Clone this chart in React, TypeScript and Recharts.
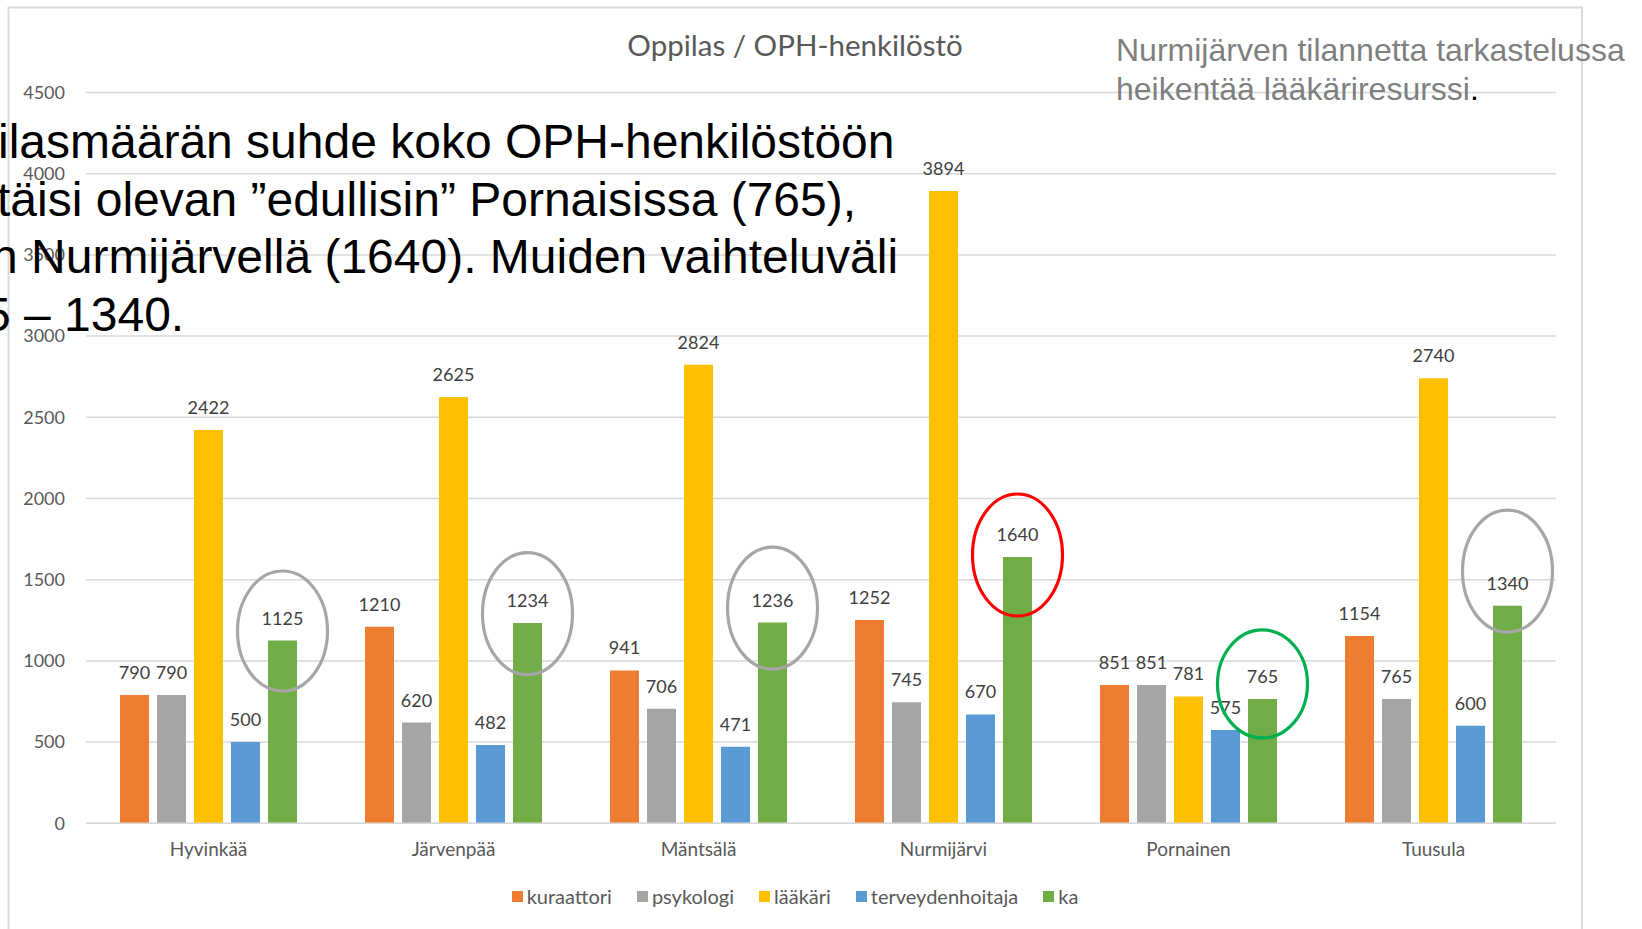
import React from 'react';
import { BarChart, Bar, XAxis, YAxis, CartesianGrid, LabelList, Legend } from 'recharts';

const categories = ['Hyvinkää', 'Järvenpää', 'Mäntsälä', 'Nurmijärvi', 'Pornainen', 'Tuusula'];
const kuraattori = [790, 1210, 941, 1252, 851, 1154];
const psykologi = [790, 620, 706, 745, 851, 765];
const laakari = [2422, 2625, 2824, 3894, 781, 2740];
const terveydenhoitaja = [500, 482, 471, 670, 575, 600];
const ka = [1125, 1234, 1236, 1640, 765, 1340];
const yTicks = [0, 500, 1000, 1500, 2000, 2500, 3000, 3500, 4000, 4500];
const seriesNames = ['kuraattori', 'psykologi', 'lääkäri', 'terveydenhoitaja', 'ka'];
const seriesColors = ['#ED7D31', '#A5A5A5', '#FFC000', '#5B9BD5', '#70AD47'];

// highlight ellipses around the "ka" bars (center given in value units)
const ellipseCenters = [1184, 1291, 1325, 1652, 858, 1553];
const ellipseColors = ['#A6A6A6', '#A6A6A6', '#A6A6A6', '#FF0000', '#00B050', '#A6A6A6'];
const ellipseRy = [60, 61, 61, 61, 54, 61];

const titleText = 'Oppilas / OPH-henkilöstö';
const noteLines = ['Nurmijärven tilannetta tarkastelussa', 'heikentää lääkäriresurssi'];
const bodyLines = [
  'ilasmäärän suhde koko OPH-henkilöstöön',
  'täisi olevan ”edullisin” Pornaisissa (765),',
  'n Nurmijärvellä (1640). Muiden vaihteluväli',
  '5 – 1340.',
];

const data = categories.map((c, i) => ({
  name: c,
  s0: kuraattori[i],
  s1: psykologi[i],
  s2: laakari[i],
  s3: terveydenhoitaja[i],
  s4: ka[i],
}));

const FONT = 'Lato, "Noto Sans", sans-serif';

const EllipseLabel = (props: any) => {
  const vb = props.viewBox || props;
  const x = Number(vb.x);
  const y = Number(vb.y);
  const w = Number(vb.width);
  const h = Number(vb.height);
  const value = Number(props.value);
  const i = props.index;
  if (!isFinite(x) || !isFinite(y) || i == null) return null;
  const pxPerUnit = h / value;
  const base = y + h;
  const cy = base - ellipseCenters[i] * pxPerUnit;
  return (
    <ellipse
      cx={x + w / 2}
      cy={cy}
      rx={45}
      ry={ellipseRy[i]}
      fill="none"
      stroke={ellipseColors[i]}
      strokeWidth={3.2}
    />
  );
};

const LegendContent = () => (
  <div
    style={{
      display: 'flex',
      justifyContent: 'center',
      alignItems: 'center',
      fontFamily: FONT,
      fontSize: 20,
      color: '#595959',
      gap: 25,
    }}
  >
    {seriesNames.map((n, i) => (
      <div key={n} style={{ display: 'flex', alignItems: 'center' }}>
        <span
          style={{
            display: 'inline-block',
            width: 11,
            height: 11,
            background: seriesColors[i],
            marginRight: 4,
          }}
        />
        <span>{n}</span>
      </div>
    ))}
  </div>
);

export default function App() {
  return (
    <div style={{ position: 'absolute', left: 0, top: 0, width: 1642, height: 929, background: '#fff', overflow: 'hidden' }}>
      <svg width={1642} height={929} style={{ position: 'absolute', left: 0, top: 0 }}>
        <rect x={8.5} y={7.5} width={1573.5} height={1000} fill="#fff" stroke="#D9D9D9" strokeWidth={2} />
      </svg>
      <div style={{ position: 'absolute', left: 0, top: 0 }}>
        <BarChart
          width={1642}
          height={929}
          data={data}
          margin={{ top: 92.5, right: 86, left: 26, bottom: 75.7 }}
          barCategoryGap={34}
          barGap={8}
        >
          <CartesianGrid vertical={false} stroke="#D9D9D9" strokeWidth={1.5} />
          <XAxis
            dataKey="name"
            axisLine={{ stroke: '#D9D9D9', strokeWidth: 1.5 }}
            tickLine={false}
            tickSize={6}
            tickMargin={13}
            height={30}
            interval={0}
            tick={{ fill: '#595959', fontSize: 19, fontFamily: FONT }}
          />
          <YAxis
            width={60}
            domain={[0, 4500]}
            ticks={yTicks}
            axisLine={false}
            tickLine={false}
            tickSize={6}
            tickMargin={15}
            tick={{ fill: '#595959', fontSize: 18, fontFamily: FONT }}
          />
          <Legend
            layout="horizontal"
            verticalAlign="middle"
            align="center"
            content={<LegendContent />}
            wrapperStyle={{ position: 'absolute', top: 884, left: 0, width: 1590, height: 26 }}
          />
          {seriesNames.map((n, i) => (
            <Bar key={n} dataKey={'s' + i} name={n} fill={seriesColors[i]} isAnimationActive={false}>
              <LabelList
                dataKey={'s' + i}
                position="top"
                offset={16}
                fill="#404040"
                fontSize={18}
                fontFamily={FONT}
              />
              {i === 4 ? <LabelList dataKey={'s' + i} content={<EllipseLabel />} /> : null}
            </Bar>
          ))}
        </BarChart>
      </div>
      <svg
        width={1642}
        height={929}
        style={{ position: 'absolute', left: 0, top: 0, pointerEvents: 'none', overflow: 'hidden' }}
      >
        <text x={795} y={56} textAnchor="middle" fontFamily={FONT} fontSize={29.5} fill="#595959">
          {titleText}
        </text>
        <text x={1116} y={61} fontFamily='"Liberation Sans", Arial, sans-serif' fontSize={32} fill="#7F7F7F">
          {noteLines[0]}
        </text>
        <text x={1116} y={100} fontFamily='"Liberation Sans", Arial, sans-serif' fontSize={32} fill="#7F7F7F">
          {noteLines[1]}
          <tspan fill="#000">.</tspan>
        </text>
        {bodyLines.map((l, i) => (
          <text
            key={i}
            x={[-2, -3, -9, -16][i]}
            y={[158, 215.5, 273, 330.5][i]}
            fontFamily='"Liberation Sans", Arial, sans-serif'
            fontSize={48}
            fill="#000"
          >
            {l}
          </text>
        ))}
      </svg>
    </div>
  );
}
